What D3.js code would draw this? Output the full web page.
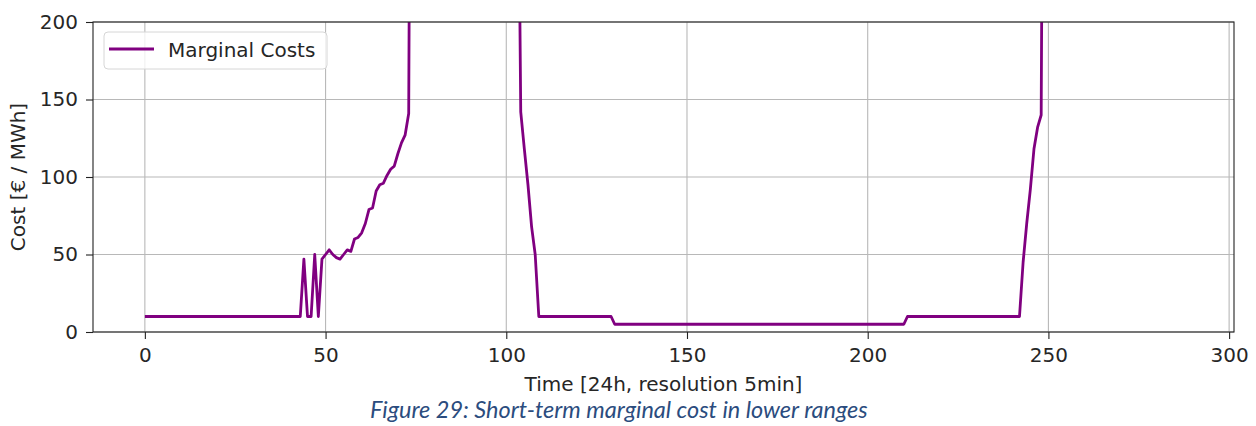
<!DOCTYPE html>
<html>
<head>
<meta charset="utf-8">
<script src="https://cdn.jsdelivr.net/npm/d3@7"></script>
<style>
  body { margin: 0; background: #fff; }
  svg text { font-family: "DejaVu Sans", sans-serif; fill: #262626; }
</style>
</head>
<body>
<div id="chart"></div>
<script>
// --- DATA (5-min steps over 24h) ---
const seriesName = "Marginal Costs";
const xTicks = [0, 50, 100, 150, 200, 250, 300];
const yTicks = [0, 50, 100, 150, 200];
const xLabel = "Time [24h, resolution 5min]";
const yLabel = "Cost [€ / MWh]";
const caption = "Figure 29: Short-term marginal cost in lower ranges";

// values above 200 are off the top of the axes (clipped)
const costs = [
  10, 10, 10, 10, 10, 10, 10, 10, 10, 10, 10, 10, 10, 10, 10, 10, 10, 10, 10, 10,
  10, 10, 10, 10, 10, 10, 10, 10, 10, 10, 10, 10, 10, 10, 10, 10, 10, 10, 10, 10,
  10, 10, 10, 10, 47, 10, 10, 50, 10, 47, 50, 53, 50, 48, 47, 50, 53, 52, 60, 61,
  64, 70, 79, 80, 91, 95, 96, 101, 105, 107, 115, 122, 127, 141, 650, 720, 800, 880, 950, 1000,
  1050, 1080, 1100, 1110, 1120, 1110, 1100, 1080, 1050, 1000, 950, 900, 840, 780, 720, 660, 600, 560, 520, 480,
  460, 440, 420, 400, 142, 118, 95, 68, 50, 10, 10, 10, 10, 10, 10, 10, 10, 10, 10, 10,
  10, 10, 10, 10, 10, 10, 10, 10, 10, 10, 5, 5, 5, 5, 5, 5, 5, 5, 5, 5,
  5, 5, 5, 5, 5, 5, 5, 5, 5, 5, 5, 5, 5, 5, 5, 5, 5, 5, 5, 5,
  5, 5, 5, 5, 5, 5, 5, 5, 5, 5, 5, 5, 5, 5, 5, 5, 5, 5, 5, 5,
  5, 5, 5, 5, 5, 5, 5, 5, 5, 5, 5, 5, 5, 5, 5, 5, 5, 5, 5, 5,
  5, 5, 5, 5, 5, 5, 5, 5, 5, 5, 5, 10, 10, 10, 10, 10, 10, 10, 10, 10,
  10, 10, 10, 10, 10, 10, 10, 10, 10, 10, 10, 10, 10, 10, 10, 10, 10, 10, 10, 10,
  10, 10, 10, 45, 70, 92, 118, 132, 140, 600, 700, 780, 850, 900, 950, 980, 1000, 1020, 1030, 1040,
  1040, 1030, 1020, 1000, 980, 950, 920, 900, 880, 860, 840, 820, 800, 790, 780, 770, 760, 750, 740, 730,
  720, 710, 700, 690, 680, 670, 660, 650
];

const totalWidth = 1256, totalHeight = 426;
const margin = { top: 22, right: 22, bottom: 94, left: 93 };
const width = totalWidth - margin.left - margin.right;
const height = totalHeight - margin.top - margin.bottom;
const lineColor = "#800080";

const svg = d3.select("#chart").append("svg")
    .attr("width", totalWidth)
    .attr("height", totalHeight);

const g = svg.append("g")
    .attr("transform", `translate(${margin.left},${margin.top})`);

// --- SCALES (matplotlib-like 5% x margin around 0..287) ---
const n = costs.length - 1;
const pad = n * 0.05;
const xScale = d3.scaleLinear().domain([-pad, n + pad]).range([0, width]);
const yScale = d3.scaleLinear().domain([0, 200]).range([height, 0]);

// --- GRID ---
g.append("g").selectAll("line").data(xTicks).enter().append("line")
    .attr("x1", d => xScale(d)).attr("x2", d => xScale(d))
    .attr("y1", 0).attr("y2", height)
    .style("stroke", "#b8b8b8").style("stroke-width", 1.1);
g.append("g").selectAll("line").data(yTicks).enter().append("line")
    .attr("x1", 0).attr("x2", width)
    .attr("y1", d => yScale(d)).attr("y2", d => yScale(d))
    .style("stroke", "#b8b8b8").style("stroke-width", 1.1);

// --- LINE ---
g.append("clipPath").attr("id", "plot-clip")
  .append("rect").attr("width", width).attr("height", height);

const line = d3.line()
    .x((d, i) => xScale(i))
    .y(d => yScale(d));

g.append("path")
    .datum(costs)
    .attr("clip-path", "url(#plot-clip)")
    .attr("d", line)
    .style("fill", "none")
    .style("stroke", lineColor)
    .style("stroke-width", 2.8)
    .style("stroke-linejoin", "round");

// --- AXES ---
const xAxis = g.append("g")
    .attr("transform", `translate(0,${height})`)
    .call(d3.axisBottom(xScale).tickValues(xTicks).tickSize(7).tickPadding(9).tickSizeOuter(0));
const yAxis = g.append("g")
    .call(d3.axisLeft(yScale).tickValues(yTicks).tickSize(7).tickPadding(8).tickSizeOuter(0));

[xAxis, yAxis].forEach(a => {
  a.select(".domain").remove();
  a.selectAll("line").style("stroke", "#222").style("stroke-width", 1.1);
  a.selectAll("text").style("font-size", "20px").style("font-family", "DejaVu Sans").style("fill", "#262626");
});

// frame
g.append("rect")
    .attr("width", width).attr("height", height)
    .style("fill", "none").style("stroke", "#222").style("stroke-width", 1.1);

// axis labels
svg.append("text")
    .attr("x", margin.left + width / 2).attr("y", 391)
    .attr("text-anchor", "middle")
    .style("font-size", "20px")
    .text(xLabel);

svg.append("text")
    .attr("transform", `translate(25,${margin.top + height / 2}) rotate(-90)`)
    .attr("text-anchor", "middle")
    .style("font-size", "20px")
    .text(yLabel);

// --- LEGEND ---
const legend = svg.append("g").attr("transform", "translate(104,32)");
legend.append("rect")
    .attr("width", 223).attr("height", 37).attr("rx", 4)
    .style("fill", "#fff").style("fill-opacity", 0.8)
    .style("stroke", "#d6d6d6").style("stroke-width", 1);
legend.append("line")
    .attr("x1", 5).attr("x2", 50).attr("y1", 17).attr("y2", 17)
    .style("stroke", lineColor).style("stroke-width", 2.8);
legend.append("text")
    .attr("x", 64).attr("y", 25)
    .style("font-size", "20px")
    .text(seriesName);

// --- CAPTION ---
const cap = svg.append("text")
    .attr("x", 370).attr("y", 418)
    .style("font-family", "Lato, 'Open Sans', sans-serif")
    .style("font-style", "italic")
    .style("font-size", "22px")
    .style("fill", "#2b4c7e")
    .text(caption);
// fit the caption to its width in the picture
const capLen = cap.node().getComputedTextLength();
cap.style("font-size", (22 * 498 / capLen) + "px");
</script>
</body>
</html>
